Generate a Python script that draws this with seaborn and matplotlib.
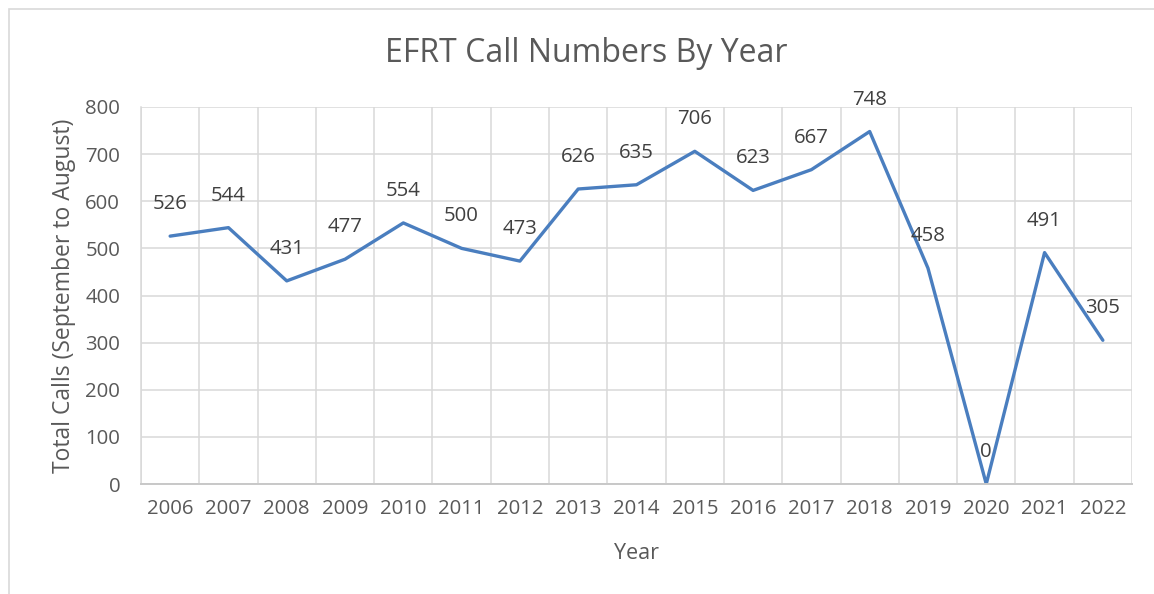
import matplotlib
matplotlib.use("Agg")
import matplotlib.pyplot as plt
import seaborn as sns
import pandas as pd
from matplotlib.patches import Rectangle

years = ["2006", "2007", "2008", "2009", "2010", "2011", "2012", "2013", "2014",
         "2015", "2016", "2017", "2018", "2019", "2020", "2021", "2022"]
calls = [526, 544, 431, 477, 554, 500, 473, 626, 635, 706, 623, 667, 748, 458, 0, 491, 305]
y_ticks = [0, 100, 200, 300, 400, 500, 600, 700, 800]

sns.set_theme(style="white")
plt.rcParams['font.family'] = ['Open Sans', 'DejaVu Sans']

TXT = '#595959'
GRID = '#D9D9D9'
LINE = '#4A7EBF'

df = pd.DataFrame({"Year": years, "Calls": calls})

fig = plt.figure(figsize=(11.54, 5.94), dpi=100)
ax = fig.add_axes([141/1154, 1-484/594, (1132-141)/1154, (484-107)/594])

sns.lineplot(data=df, x="Year", y="Calls", ax=ax, color=LINE, linewidth=2.4, sort=False)

n = len(years)
ax.set_xlim(-0.5, n - 0.5)
ax.set_ylim(0, 800)
ax.set_yticks(y_ticks)
ax.set_yticklabels([str(v) for v in y_ticks])
ax.set_xticks(range(n))
ax.set_xticklabels(years)

ax.grid(False)
for v in y_ticks:
    ax.axhline(v, color=GRID, linewidth=1.1, zorder=0)
for b in [i + 0.5 for i in range(-1, n)]:
    ax.axvline(b, color=GRID, linewidth=1.1, zorder=0)

for s in ['top', 'right']:
    ax.spines[s].set_visible(False)
ax.spines['left'].set_color(GRID)
ax.spines['left'].set_linewidth(1.1)
ax.spines['bottom'].set_color('#C8C8C8')
ax.spines['bottom'].set_linewidth(1.4)

ax.tick_params(axis='both', which='both', length=0, colors=TXT, labelsize=14.7)
ax.tick_params(axis='y', pad=15)
ax.tick_params(axis='x', pad=11)

ax.set_xlabel("Year", fontsize=15.5, color=TXT, labelpad=17)
ax.set_ylabel("Total Calls (September to August)", fontsize=16.5, color=TXT, labelpad=7)

for i, v in enumerate(calls):
    ax.annotate(str(v), (i, v), xytext=(0, 23), textcoords='offset points',
                ha='center', va='center', fontsize=14.7, color='#404040')

fig.text(586/1154, 1-53/594, "EFRT Call Numbers By Year", ha='center', va='center',
         fontsize=23, color=TXT)

fig.patches.append(Rectangle((9/1154, -0.1), 1.2, 1-9/594 + 0.1, transform=fig.transFigure,
                             fill=False, edgecolor='#D9D9D9', linewidth=1.2, zorder=-1))

fig.savefig("out.png", dpi=100, facecolor='white')
